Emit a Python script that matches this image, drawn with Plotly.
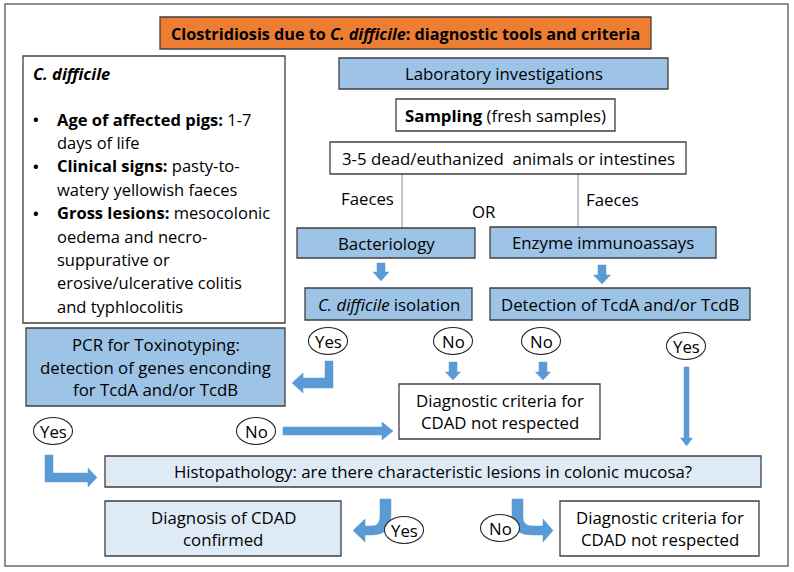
import plotly.graph_objects as go

# ---------------- text content ----------------
title_text = "<b>Clostridiosis due to <i>C. difficile</i>: diagnostic tools and criteria</b>"
panel_heading = "<b><i>C. difficile</i></b>"
panel_lines = [
    "<b>Age of affected pigs:</b> 1-7",
    "days of life",
    "<b>Clinical signs:</b> pasty-to-",
    "watery yellowish faeces",
    "<b>Gross lesions:</b> mesocolonic",
    "oedema and necro-",
    "suppurative or",
    "erosive/ulcerative colitis",
    "and typhlocolitis",
]
panel_bullet_lines = [0, 2, 4]

box_names = ["lab", "sampling", "animals", "bact", "eia", "isol", "detect",
             "pcr", "crit_mid", "histo", "confirmed", "crit_right"]
box_texts = [
    ["Laboratory investigations"],
    ["<b>Sampling</b> (fresh samples)"],
    ["3-5 dead/euthanized&nbsp; animals or intestines"],
    ["Bacteriology"],
    ["Enzyme immunoassays"],
    ["<i>C. difficile</i> isolation"],
    ["Detection of TcdA and/or TcdB"],
    ["PCR for Toxinotyping:", "detection of genes enconding", "for TcdA and/or TcdB"],
    ["Diagnostic criteria for", "CDAD not respected"],
    ["Histopathology: are there characteristic lesions in colonic mucosa?"],
    ["Diagnosis of CDAD", "confirmed"],
    ["Diagnostic criteria for", "CDAD not respected"],
]
oval_texts = ["Yes", "No", "No", "Yes", "Yes", "No", "Yes", "No"]
free_texts = ["Faeces", "Faeces", "OR"]

# ---------------- layout (pixel geometry) ----------------
W, H = 794, 572
BLUE = "#9DC3E6"
LIGHT = "#DEEBF7"
ORANGE = "#ED7D31"
ARROW = "#5B9BD5"
EDGE = "#3F3F3F"
FONT = "Open Sans"
FS = 16.8

box_geom = {  # x0, y0, x1, y1, fill
    "lab": (339, 58, 668, 89, BLUE),
    "sampling": (396, 99, 615, 131, "white"),
    "animals": (330, 142, 686, 174, "white"),
    "bact": (297, 228, 475, 258, BLUE),
    "eia": (490, 227, 716, 258, BLUE),
    "isol": (305, 288, 472, 320, BLUE),
    "detect": (490, 288, 750, 320, BLUE),
    "pcr": (26, 328, 285, 406, BLUE),
    "crit_mid": (399, 384, 600, 439, "white"),
    "histo": (105, 456, 761, 487, LIGHT),
    "confirmed": (105, 501, 341, 556, LIGHT),
    "crit_right": (560, 501, 759, 556, "white"),
}
line_gap = 22.5

oval_geom = [(328, 341), (453, 341), (541, 341), (686, 346),
             (53, 431), (256, 431), (404, 530), (500, 528)]
OVAL_RX, OVAL_RY = 19.5, 13.5

free_pos = [(367, 198), (612, 199), (484, 211)]

fig = go.Figure()
shapes = []
annotations = []

def add_text(x, y, txt, size=FS, anchor="center", color="black"):
    annotations.append(dict(x=x, y=y, xref="x", yref="y", text=txt, showarrow=False,
                            xanchor=anchor, yanchor="middle",
                            font=dict(family=FONT, size=size, color=color)))

# outer frame
shapes.append(dict(type="rect", x0=5, y0=4, x1=788, y1=566,
                   line=dict(color="#6B6B6B", width=1.5), fillcolor="white", layer="below"))

# title box
shapes.append(dict(type="rect", x0=160, y0=17, x1=651, y1=49,
                   line=dict(color=EDGE, width=1.3), fillcolor=ORANGE))
add_text(405.5, 33.5, title_text, size=16.2)

# left panel
shapes.append(dict(type="rect", x0=23, y0=56, x1=285, y1=323,
                   line=dict(color=EDGE, width=1.3), fillcolor="white"))
add_text(31, 73, panel_heading, size=16.5, anchor="left")
for i, ln in enumerate(panel_lines):
    y = 119 + i * 23.4
    add_text(55, y, ln, size=16.5, anchor="left")
    if i in panel_bullet_lines:
        add_text(31, y, "<b>•</b>", size=15, anchor="left")

# connector lines from animals box
shapes.append(dict(type="line", x0=402, y0=174, x1=402, y1=228,
                   line=dict(color="#8C8C8C", width=1)))
shapes.append(dict(type="line", x0=578, y0=174, x1=578, y1=227,
                   line=dict(color="#8C8C8C", width=1)))
for (x, y), t in zip(free_pos, free_texts):
    add_text(x, y, t)

# boxes
for name, lines in zip(box_names, box_texts):
    x0, y0, x1, y1, fill = box_geom[name]
    shapes.append(dict(type="rect", x0=x0, y0=y0, x1=x1, y1=y1,
                       line=dict(color=EDGE, width=1.3), fillcolor=fill))
    cx, cy = (x0 + x1) / 2, (y0 + y1) / 2
    n = len(lines)
    for k, ln in enumerate(lines):
        add_text(cx, cy + (k - (n - 1) / 2) * line_gap, ln)

# ---------------- arrows ----------------
def poly(pts):
    return "M " + " L ".join(f"{x},{y}" for x, y in pts) + " Z"

def down_arrow(cx, y0, y1, sw, hw, hl):
    return poly([(cx - sw / 2, y0), (cx + sw / 2, y0), (cx + sw / 2, y1 - hl),
                 (cx + hw / 2, y1 - hl), (cx, y1), (cx - hw / 2, y1 - hl),
                 (cx - sw / 2, y1 - hl)])

def right_arrow(cy, x0, x1, sw, hw, hl):
    return poly([(x0, cy - sw / 2), (x1 - hl, cy - sw / 2), (x1 - hl, cy - hw / 2),
                 (x1, cy), (x1 - hl, cy + hw / 2), (x1 - hl, cy + sw / 2), (x0, cy + sw / 2)])

arrow_paths = [
    down_arrow(381, 263, 281, 8, 16, 9),
    down_arrow(602, 265, 284, 8, 17, 9),
    down_arrow(453, 362, 380, 8, 15, 8),
    down_arrow(543, 362, 380, 8, 15, 8),
    down_arrow(686.5, 367, 446, 5, 12, 8),
    right_arrow(431, 283, 393, 8, 18, 11),
    # Yes -> PCR (down then left)
    poly([(325, 361), (333, 361), (333, 388), (303, 388), (303, 393), (292, 383),
          (303, 373), (303, 378), (325, 378)]),
    # left Yes -> Histopathology (down then right)
    poly([(45, 455), (53, 455), (53, 473), (88, 473), (88, 468), (97, 477.5),
          (88, 487), (88, 482), (45, 482)]),
    # curved: down then left (to confirmed)
    "M 380,499 L 391,499 L 391,516 Q 391,535 372,535 L 365,535 L 365,542 L 353,530.5 "
    "L 365,519 L 365,526 L 372,526 Q 380,526 380,516 Z",
    # curved: down then right (to not respected)
    "M 512,499 L 523,499 L 523,517 Q 523,526 532,526 L 543,526 L 543,519 L 553,530.5 "
    "L 543,542 L 543,535 L 532,535 Q 512,535 512,517 Z",
]
for p in arrow_paths:
    shapes.append(dict(type="path", path=p, fillcolor=ARROW,
                       line=dict(color=ARROW, width=0.5)))

# ovals
for (cx, cy), t in zip(oval_geom, oval_texts):
    shapes.append(dict(type="circle", x0=cx - OVAL_RX, x1=cx + OVAL_RX,
                       y0=cy - OVAL_RY, y1=cy + OVAL_RY,
                       line=dict(color="#262626", width=1.1), fillcolor="white"))
    add_text(cx, cy, t)

fig.update_layout(
    width=W, height=H,
    margin=dict(l=0, r=0, t=0, b=0),
    paper_bgcolor="white", plot_bgcolor="white",
    xaxis=dict(range=[0, W], visible=False, fixedrange=True),
    yaxis=dict(range=[H, 0], visible=False, fixedrange=True),
    shapes=shapes, annotations=annotations, showlegend=False,
)
fig.write_html("out.html", config={"displayModeBar": False},
               post_script="document.body.style.margin='0';")
